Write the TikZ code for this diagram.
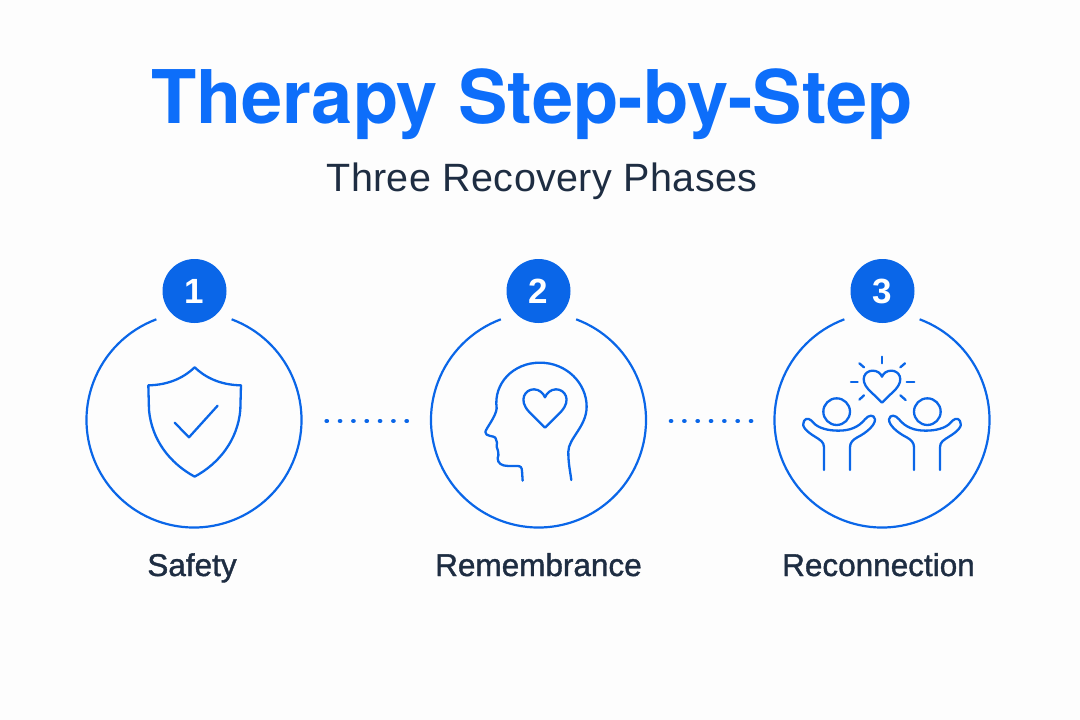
\documentclass[tikz,border=0pt]{standalone}
\usepackage{fontspec}
\setmainfont{Liberation Sans}
\newfontfamily\titlefont{TeX Gyre Heros}
\newfontfamily\subfont[LetterSpace=1]{Liberation Sans}
\newfontfamily\labfont[FakeBold=1.2]{Liberation Sans}
\definecolor{brand}{HTML}{0A66E8}
\definecolor{titleblue}{HTML}{0D6EFA}
\definecolor{ink}{HTML}{1E2D42}
\definecolor{paper}{HTML}{FDFDFD}
\tikzset{
  ring/.style={draw=brand,line width=2.2pt},
  icon/.style={draw=brand,line width=2.3pt,line cap=round,line join=round},
  badge/.style={circle,fill=brand,minimum size=64pt,inner sep=0pt,text=white,font=\fontsize{35}{35}\selectfont\bfseries},
  lab/.style={text=ink,font=\labfont\fontsize{31.5}{32}\selectfont,inner sep=0pt,anchor=base},
  dotlink/.style={draw=brand,line width=4.6pt,line cap=round,dash pattern=on 0.1pt off 13.23pt}
}
\begin{document}
\begin{tikzpicture}[x=1pt,y=-1pt]
\useasboundingbox (0,0) rectangle (1080,720);
\fill[paper] (0,0) rectangle (1080,720);
\node[inner sep=0pt,text=titleblue,anchor=base] (title) at (532,123) {\titlefont\fontsize{74}{74}\selectfont\bfseries Therapy Step-by-Step};
\node[inner sep=0pt,text=ink,anchor=base] (sub) at (542,191) {\subfont\fontsize{39.5}{40}\selectfont Three Recovery Phases};
\coordinate (c1) at (194,420); \coordinate (c2) at (538.5,420); \coordinate (c3) at (882,420);
\foreach \c in {c1,c2,c3}{
  \draw[ring] ([shift={(-69.5:107.5)}]\c) arc[start angle=-69.5,end angle=249.5,radius=107.5];
}
\node[badge] (b1) at (194.5,291) {1};
\node[badge] (b2) at (538.5,291) {2};
\node[badge] (b3) at (882.5,291) {3};
\node[lab] (l1) at (192,576) {Safety};
\node[lab] (l2) at (538.5,576) {Remembrance};
\node[lab] (l3) at (878.5,576) {Reconnection};
\coordinate (d1a) at (326.7,421); \coordinate (d1b) at (406.8,421);
\coordinate (d2a) at (671,421); \coordinate (d2b) at (751.1,421);
\draw[dotlink] (d1a) -- (d1b);
\draw[dotlink] (d2a) -- (d2b);
% shield
\begin{scope}[shift={(80,260)},x=0.3333pt,y=-0.3333pt]
\draw[icon] (344,322) .. controls (315,350) and (270,375) .. (205,376)
  -- (207,450) .. controls (215,540) and (270,610) .. (344,650)
  .. controls (418,610) and (473,540) .. (481,450) -- (483,376)
  .. controls (418,375) and (373,350) .. (344,322) -- cycle;
\draw[icon] (284,488) -- (327,532) -- (413,437);
\end{scope}
% head and heart
\begin{scope}[shift={(430,260)},x=0.3333pt,y=-0.3333pt]
\draw[icon] (278,662) -- (276,632) .. controls (275,622) and (272,618) .. (262,618)
  -- (235,618) .. controls (215,618) and (203,610) .. (203,595)
  .. controls (203,588) and (208,585) .. (205,578)
  .. controls (201,572) and (205,566) .. (200,560)
  .. controls (204,552) and (200,545) .. (196,533)
  .. controls (192,527) and (165,530) .. (166,516)
  .. controls (168,505) and (198,470) .. (200,445)
  .. controls (190,370) and (250,308) .. (330,308)
  .. controls (410,308) and (470,370) .. (470,440)
  .. controls (470,500) and (415,535) .. (415,575)
  .. controls (415,610) and (420,630) .. (424,660);
\draw[icon] (345,503) -- (296,454) .. controls (265,420) and (285,388) .. (312,388)
  .. controls (328,388) and (340,400) .. (345,412)
  .. controls (350,400) and (362,388) .. (378,388)
  .. controls (405,388) and (425,420) .. (394,454) -- cycle;
\end{scope}
% people
\begin{scope}[shift={(770,340)},x=0.3333pt,y=-0.3333pt]
\draw[icon] (336,188) -- (295,148) .. controls (268,118) and (285,92) .. (308,92)
  .. controls (322,92) and (332,100) .. (336,110)
  .. controls (340,100) and (350,92) .. (364,92)
  .. controls (387,92) and (404,118) .. (377,148) -- cycle;
\draw[icon] (336,50) -- (336,70);
\draw[icon] (268,70) -- (282,82);
\draw[icon] (405,70) -- (391,82);
\draw[icon] (243,125) -- (263,125);
\draw[icon] (410,125) -- (433,125);
\draw[icon] (268,179) -- (282,166);
\draw[icon] (391,166) -- (407,180);
\foreach \mir/\sc in {0/1,224/-1}{
\begin{scope}[xshift=\mir pt,xscale=\sc]
\draw[icon] (200,215) circle[radius=40];
\draw[icon] (162,390) -- (162,322) .. controls (162,305) and (150,300) .. (135,290)
  .. controls (110,275) and (92,258) .. (102,243)
  .. controls (110,230) and (122,238) .. (130,248)
  .. controls (145,265) and (175,272) .. (205,272)
  .. controls (240,272) and (265,262) .. (285,238)
  .. controls (295,225) and (312,222) .. (315,238)
  .. controls (316,255) and (290,278) .. (262,292)
  .. controls (248,300) and (240,308) .. (240,322) -- (240,390);
\end{scope}}
\end{scope}
\end{tikzpicture}
\end{document}
